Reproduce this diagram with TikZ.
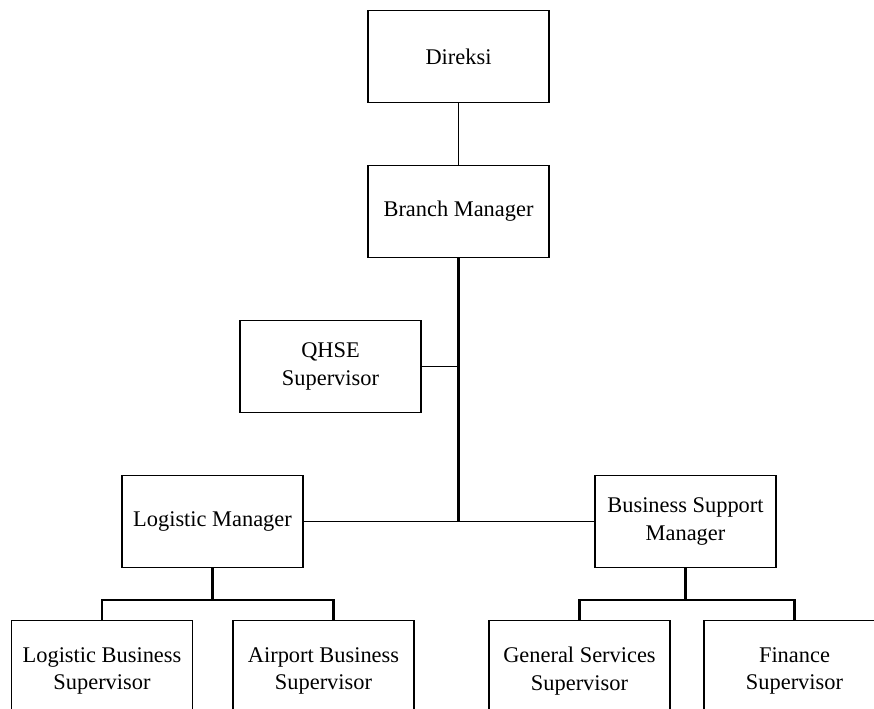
\documentclass[tikz,border=0pt]{standalone}
\usepackage{fontspec}
\setmainfont{Liberation Serif}
\begin{document}
\begin{tikzpicture}[x=0.75pt,y=-0.75pt,
  box/.style={draw,rectangle,line width=0.9pt,minimum width=135.75pt,minimum height=68.5pt,inner sep=0pt,align=center,font=\fontsize{16.8}{20.8}\selectfont},
  lowbox/.style={box,minimum height=75.75pt},
  thin/.style={line width=1.0pt},
  thick2/.style={line width=1.6pt}]
\useasboundingbox (0,0) rectangle (874,708);
\clip (0,0) rectangle (874,708);
\node[box] (dir) at (458.5,56.5) {Direksi};
\node[box] (bm) at (458.5,211.5) {Branch Manager};
\node[box] (qhse) at (330.5,366.5) {QHSE\\Supervisor};
\node[box] (lm) at (212.5,521.5) {Logistic Manager};
\node[box] (bsm) at (685.5,521.5) {Business Support\\Manager};
\node[lowbox] (lbs) at (102,671) {Logistic Business\\Supervisor};
\node[lowbox] (abs) at (323.5,671) {Airport Business\\Supervisor};
\node[lowbox] (gss) at (579.5,671) {General Services\\Supervisor};
\node[lowbox] (fs) at (794.5,671) {Finance\\Supervisor};
\coordinate (hub) at (458.5,521.5);
\coordinate (qj) at (458.5,366.5);
\coordinate (lmb) at (212.5,600);
\coordinate (bsmb) at (685.5,600);
\coordinate (absd) at (333.5,600);
\draw[thin] (dir.south) -- (bm.north);
\draw[thick2] (bm.south) -- (hub);
\draw[thin] (qhse.east) -- (qj);
\draw[thin] (lm.east) -- (bsm.west);
\draw[thick2] (lm.south) -- (lmb);
\draw[thick2] (lbs.north) |- (lmb) -- (absd) -- (absd |- abs.north);
\draw[thick2] (bsm.south) -- (bsmb);
\draw[thick2] (gss.north) |- (bsmb) -| (fs.north);
\end{tikzpicture}
\end{document}
